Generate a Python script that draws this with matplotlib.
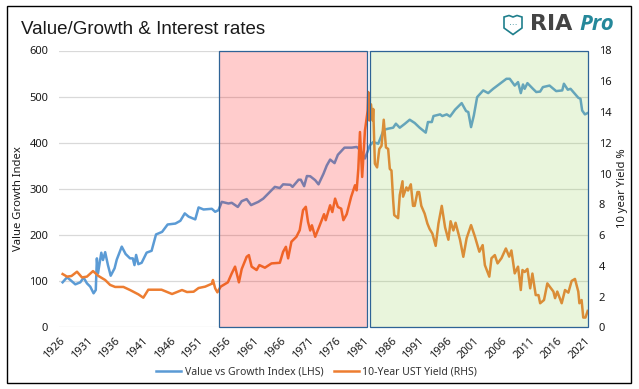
import matplotlib
matplotlib.use("Agg")
import matplotlib.pyplot as plt
from matplotlib.patches import Rectangle, Polygon

title = "Value/Growth & Interest rates"
vg_years = [1926.6,1927.4,1928.0,1928.9,1929.8,1930.4,1931.0,1931.6,1932.2,1932.6,1932.8,1933.0,1933.6,1933.9,1934.3,1934.8,1935.3,1936.0,1936.4,1937.3,1938.0,1938.8,1939.3,1939.6,1939.9,1940.3,1940.9,1941.8,1942.7,1943.5,1944.6,1945.6,1947.0,1947.9,1948.7,1949.4,1950.6,1951.2,1952.1,1953.6,1954.2,1954.8,1955.4,1956.6,1957.2,1958.3,1959.0,1959.9,1960.7,1962.0,1962.9,1964.1,1965.0,1965.9,1966.5,1967.8,1968.2,1969.3,1969.7,1970.3,1970.8,1971.4,1972.3,1972.9,1973.8,1974.4,1975.0,1975.8,1976.4,1977.6,1978.9,1979.8,1980.5,1981.3,1982.2,1982.8,1983.7,1984.7,1985.5,1986.4,1986.9,1987.6,1988.5,1989.4,1990.3,1991.2,1992.3,1992.7,1993.4,1993.7,1994.9,1995.3,1996.1,1996.7,1997.6,1998.8,1999.6,2000.0,2000.5,2001.0,2001.6,2002.7,2003.6,2004.5,2005.7,2006.9,2007.5,2008.4,2009.0,2009.5,2009.9,2010.2,2010.7,2011.7,2012.3,2013.0,2013.5,2014.7,2015.9,2017.0,2017.3,2018.0,2018.5,2019.3,2019.9,2020.3,2020.6,2021.1,2021.6]
vg_values = [97.7,108.5,102.7,93.3,97.7,107.8,95.5,88.3,73.9,81,149.6,117,161.8,146,163,135,112,128,147,175,159,149.6,149.6,135,157,137,140,162,166,201.4,207,223,225,231,247,240,234,260,255.5,257,250.5,254,272,268.5,270,261,273.5,278,265,272,279,293.7,304.5,302,310,309,304.5,320,320,306,328,327.5,319,310,333,351,363.6,356,374,389.5,389.5,391,384,366,394.5,401.7,398,428,430.6,432.7,441.4,432.7,441,450,443,432.7,422,445,445,458,461.6,458,461.6,457,471.7,486,468.8,466.6,434,459,499,513.5,507.7,517,528,538.7,538.7,524,531.5,507.7,526.4,517,529.3,517,510,511,520.7,524,512,513.5,528,515,517,506,497.6,495.4,470,461.6,464.5]

ust_years = [1926.6,1927.4,1928.2,1929.2,1930.1,1931.0,1932.1,1933.1,1934.3,1935.2,1936.1,1937.6,1938.8,1940.3,1941.2,1942.1,1944.5,1946.4,1948.2,1949.1,1950.3,1951.2,1952.4,1953.6,1953.8,1954.2,1954.6,1955.2,1955.7,1956.5,1957.2,1957.8,1958.5,1959.0,1959.9,1960.3,1960.8,1961.7,1962.2,1963.2,1964.4,1965.9,1966.5,1967.0,1967.4,1968.0,1968.9,1969.5,1970.1,1970.6,1971.0,1971.4,1971.7,1972.3,1972.9,1973.9,1974.2,1975.0,1975.4,1975.9,1976.4,1977.0,1977.4,1978.0,1978.8,1979.5,1979.8,1980.1,1980.4,1980.8,1981.3,1981.8,1981.9,1982.1,1982.4,1982.7,1982.8,1983.1,1983.5,1983.9,1984.3,1984.7,1985.1,1985.5,1985.8,1986.1,1986.4,1986.6,1987.3,1987.6,1988.1,1988.2,1988.8,1989.1,1989.6,1990.0,1990.3,1990.8,1991.1,1991.5,1992.1,1992.6,1993.0,1993.5,1994.1,1994.6,1995.2,1995.8,1996.4,1996.8,1997.3,1997.7,1998.5,1999.1,1999.7,2000.5,2001.2,2002.0,2002.6,2003.0,2003.8,2004.2,2004.8,2005.3,2006.0,2006.8,2007.4,2007.8,2008.4,2009.0,2009.5,2009.8,2010.2,2010.7,2011.2,2011.6,2012.2,2012.7,2013.0,2013.7,2014.3,2015.4,2015.7,2016.1,2016.9,2017.5,2018.1,2018.7,2019.3,2019.9,2020.1,2020.5,2020.8,2021.2,2021.6]
ust_values = [3.47,3.3,3.34,3.62,3.25,3.3,3.66,3.34,3.08,2.76,2.63,2.63,2.43,2.15,1.93,2.45,2.45,2.17,2.43,2.3,2.32,2.56,2.65,2.84,3.08,2.54,2.28,2.65,2.76,2.93,3.51,3.95,2.93,3.79,4.59,4.7,3.95,3.73,4.05,3.88,4.16,4.2,4.92,5.24,4.49,5.57,5.89,6.32,7.62,7.84,6.86,6.3,6.64,5.89,6.43,7.36,6.97,7.94,7.5,8.37,7.83,7.72,6.97,7.36,8.48,9.24,8.91,10.3,12.7,9.78,12.8,14.1,15.3,13.45,14.5,13.45,14.2,10.64,10.4,11.6,11.8,13.5,11.7,11.6,10.3,10.2,8.3,7.3,7.1,8.6,9.5,8.5,9.1,8.9,9.3,7.9,7.9,8.8,8.8,7.9,7.4,6.75,6.4,6.1,5.3,6.75,7.9,6.5,5.7,6.9,6.3,6.8,5.7,4.59,5.8,6.65,5.9,4.92,5.35,4.05,3.3,4.5,4.7,4.16,4.5,5.13,4.6,5.0,3.51,3.95,2.43,3.73,3.6,3.8,2.54,3.5,2.1,2.1,1.57,1.78,2.86,2.33,1.9,2.33,1.57,2.43,2.26,3.02,3.15,2.33,1.57,1.78,0.64,0.64,1.07]

tick_years = list(range(1926, 2022, 5))
left_ticks = [0, 100, 200, 300, 400, 500, 600]
right_ticks = [0, 2, 4, 6, 8, 10, 12, 14, 16, 18]
red_span = (1954.9, 1981.75)
green_span = (1982.15, 2021.68)

W, H = 639, 389
UI = ["Noto Sans", "DejaVu Sans"]
FS = 8.0
fig = plt.figure(figsize=(W/100, H/100), dpi=100, facecolor="white")
L, R, T, B = 59.3, 589, 50.5, 327.4
ax = fig.add_axes([L/W, 1-B/H, (R-L)/W, (B-T)/H])
ax2 = ax.twinx()
ax.set_xlim(1926, 2021.84)
ax.set_ylim(0, 600)
ax2.set_ylim(0, 18)
ax.set_facecolor("white")

for a in (ax, ax2):
    for s in a.spines.values():
        s.set_visible(False)
ax.set_axisbelow(True)
ax.yaxis.grid(True, color="#d9d9d9", lw=0.9)
ax.set_yticks(left_ticks)
ax2.set_yticks(right_ticks)
ax.set_xticks(tick_years)
ax.set_xticklabels([str(y) for y in tick_years], rotation=45, ha="right", rotation_mode="anchor",
                    fontsize=FS, family=UI, color="#1a1a1a")
ax.tick_params(axis="both", length=0, labelsize=FS, labelcolor="#1a1a1a")
ax.tick_params(axis="x", pad=6)
ax.tick_params(axis="y", pad=8)
ax2.tick_params(axis="y", length=0, labelsize=FS, labelcolor="#1a1a1a", pad=7)
for t in ax.get_yticklabels() + ax2.get_yticklabels():
    t.set_family(UI)

l1, = ax.plot(vg_years, vg_values, color="#5B9BD5", lw=1.8, solid_joinstyle="round", label="Value vs Growth Index (LHS)")
l2, = ax2.plot(ust_years, ust_values, color="#ED7D31", lw=1.8, solid_joinstyle="round", label="10-Year UST Yield (RHS)")

# Translucent panels lie over the lines, opaque frames on top
ax2.add_patch(Rectangle((red_span[0], 0), red_span[1]-red_span[0], 18, facecolor="#ff0000", alpha=0.2, edgecolor="none", zorder=5, clip_on=False))
ax2.add_patch(Rectangle((green_span[0], 0), green_span[1]-green_span[0], 17.95, facecolor="#92D050", alpha=0.2, edgecolor="none", zorder=5, clip_on=False))
ax2.add_patch(Rectangle((red_span[0], 0), red_span[1]-red_span[0], 18, fill=False, edgecolor="#2F6396", lw=0.9, zorder=6, clip_on=False))
ax2.add_patch(Rectangle((green_span[0], 0), green_span[1]-green_span[0], 17.95, fill=False, edgecolor="#2F6396", lw=0.9, zorder=6, clip_on=False))

fig.text(21/W, 1-29.5/H, title, family="Liberation Sans", fontsize=13.5, color="#1a1a1a", va="center", ha="left")
fig.text(19/W, 1-199/H, "Value Growth Index", rotation=90, family=UI, fontsize=8.1, va="center", ha="center", color="#1a1a1a")
fig.text(622/W, 1-188/H, "10 year Yield %", rotation=90, family=UI, fontsize=8.1, va="center", ha="center", color="#1a1a1a")

leg = fig.legend(handles=[l1, l2], loc="center", bbox_to_anchor=(316.5/W, 1-372/H), ncols=2, frameon=False,
                 prop={"family": UI, "size": 7.5}, handlelength=2.4, handletextpad=0.3, columnspacing=1.0)
for t in leg.get_texts():
    t.set_color("#333333")

# Outer frame
fig.add_artist(Rectangle((7/W, 1-383/H), 624/W, 377/H, transform=fig.transFigure, fill=False, edgecolor="black", lw=1.0))

# Logo
teal = "#1F7F8C"
shield = [(504,17),(509,15.5),(513,17),(517,15.5),(522,17),(522,28),(513,34.5),(504,28)]
fig.add_artist(Polygon([(x/W, 1-y/H) for x, y in shield], closed=True, transform=fig.transFigure, fill=False, edgecolor=teal, lw=1.2))
fig.text(513/W, 1-22.5/H, "\u2026", family="DejaVu Sans", fontsize=6, color=teal, ha="center", va="center")
fig.text(530.5/W, 1-24.5/H, "RIA", family="DejaVu Sans", weight="bold", fontsize=16, color="#444444", va="center", ha="left")
fig.text(579/W, 1-24.5/H, "Pro", family="Open Sans", style="italic", weight="bold", fontsize=16, color="#25889A", va="center", ha="left")

fig.savefig("out.png", dpi=100)
